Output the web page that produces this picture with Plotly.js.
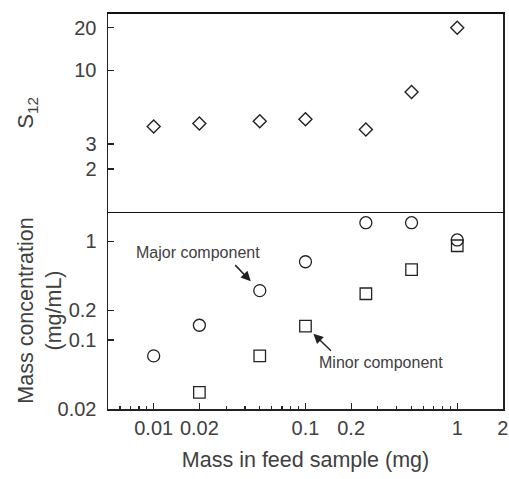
<!DOCTYPE html>
<html>
<head>
<meta charset="utf-8">
<script src="https://cdn.plot.ly/plotly-3.0.1.min.js"></script>
<style>
  html, body { margin: 0; padding: 0; background: #fff; }
  #chart { width: 509px; height: 479px; }
</style>
</head>
<body>
<div id="chart"></div>
<script>
// Mass loaded in the feed sample (mg)
const mass = [0.01, 0.02, 0.05, 0.1, 0.25, 0.5, 1];
// Separation factor S12 at each loading
const s12 = [4.0, 4.2, 4.35, 4.5, 3.8, 7.0, 20];
// Recovered mass concentration of the major component (mg/mL)
const majorConc = [0.069, 0.141, 0.316, 0.62, 1.54, 1.54, 1.03];
// Minor component (not detected at the lowest loading)
const massMinor = [0.02, 0.05, 0.1, 0.25, 0.5, 1];
const minorConc = [0.0295, 0.069, 0.138, 0.294, 0.515, 0.90];

const xTicks = [0.01, 0.02, 0.1, 0.2, 1, 2];
const xTickText = ['0.01', '0.02', '0.1', '0.2', '1', '2'];
const xMinor = [0.006, 0.007, 0.008, 0.009, 0.03, 0.04, 0.05, 0.06, 0.07, 0.08, 0.09,
                0.3, 0.4, 0.5, 0.6, 0.7, 0.8, 0.9];
const sTicks = [2, 3, 10, 20];
const cTicks = [0.02, 0.1, 0.2, 1];
const cTickText = ['0.02', '0.1', '0.2', '1'];

const ink = '#222';
const textInk = '#404040';
const font = 'Liberation Sans, Arial, sans-serif';

const traces = [
  {
    x: mass, y: s12, xaxis: 'x2', yaxis: 'y2', mode: 'markers', type: 'scatter',
    marker: { symbol: 'diamond-open', size: 10, color: ink, line: { width: 1.4, color: ink } },
    showlegend: false
  },
  {
    x: mass, y: majorConc, xaxis: 'x', yaxis: 'y', mode: 'markers', type: 'scatter',
    marker: { symbol: 'circle-open', size: 12, color: ink, line: { width: 1.3, color: ink } },
    showlegend: false
  },
  {
    x: massMinor, y: minorConc, xaxis: 'x', yaxis: 'y', mode: 'markers', type: 'scatter',
    marker: { symbol: 'square-open', size: 11.5, color: ink, line: { width: 1.3, color: ink } },
    showlegend: false
  }
];

const xRange = [Math.log10(0.005), Math.log10(2) + 0.0005];

const layout = {
  width: 509, height: 479,
  margin: { l: 108, r: 6, t: 14, b: 70 },
  paper_bgcolor: '#fff', plot_bgcolor: '#fff',
  font: { family: font, color: textInk, size: 20 },
  showlegend: false,
  xaxis: {
    type: 'log', range: xRange, anchor: 'y', domain: [0, 1],
    showline: true, linecolor: ink, linewidth: 1.5, mirror: false,
    showgrid: false, zeroline: false,
    ticks: 'inside', ticklen: 6, tickwidth: 1.3, tickcolor: ink,
    tickvals: xTicks, ticktext: xTickText,
    tickfont: { size: 20, color: textInk, family: font },
    minor: { tickvals: xMinor, ticks: 'inside', ticklen: 3, tickwidth: 1.2, tickcolor: ink, showgrid: false },
    title: { text: 'Mass in feed sample (mg)', font: { size: 21.5, color: textInk, family: font }, standoff: 14 },
    automargin: false
  },
  xaxis2: {
    type: 'log', range: xRange, anchor: 'y2', matches: 'x', domain: [0, 1],
    showline: true, linecolor: '#111', linewidth: 1.8, mirror: true,
    showgrid: false, zeroline: false, ticks: '', showticklabels: false
  },
  yaxis: {
    type: 'log', domain: [0, 0.5], anchor: 'x',
    range: [Math.log10(0.02), Math.log10(2)],
    showline: true, linecolor: ink, linewidth: 1.5, mirror: true,
    showgrid: false, zeroline: false,
    ticks: 'inside', ticklen: 6, tickwidth: 1.3, tickcolor: ink,
    tickvals: cTicks, ticktext: cTickText,
    tickfont: { size: 20, color: textInk, family: font },
    ticklabelstandoff: 6,
    automargin: false
  },
  yaxis2: {
    type: 'log', domain: [0.5, 1], anchor: 'x2',
    range: [0, Math.log10(25)],
    showline: true, linecolor: ink, linewidth: 1.5, mirror: true,
    showgrid: false, zeroline: false,
    ticks: 'inside', ticklen: 6, tickwidth: 1.3, tickcolor: ink,
    tickvals: sTicks, ticktext: sTicks.map(String),
    tickfont: { size: 20, color: textInk, family: font },
    ticklabelstandoff: 6,
    title: { text: 'S<sub>12</sub>', font: { size: 22, color: textInk, family: font }, standoff: 34 },
    automargin: false
  },
  annotations: [
    {
      // two-line title of the lower panel's y axis
      xref: 'paper', yref: 'paper', x: -0.171, y: 0.25,
      xanchor: 'center', yanchor: 'middle', textangle: -90,
      text: 'Mass concentration<br>(mg/mL)', showarrow: false,
      font: { size: 21.5, color: textInk, family: font }
    },
    {
      xref: 'x', yref: 'y', x: Math.log10(0.0195), y: Math.log10(0.768),
      text: 'Major component', showarrow: false,
      font: { size: 16, color: textInk, family: font }
    },
    {
      xref: 'x', yref: 'y', x: Math.log10(0.3155), y: Math.log10(0.059),
      text: 'Minor component', showarrow: false,
      font: { size: 16, color: textInk, family: font }
    },
    {
      // arrow toward the major-component point at 0.05 mg
      xref: 'x', yref: 'y', x: Math.log10(mass[2]), y: Math.log10(majorConc[2]),
      text: '', showarrow: true, ax: -26, ay: -27, standoff: 13,
      arrowhead: 2, arrowsize: 1.3, arrowwidth: 1.5, arrowcolor: ink
    },
    {
      // arrow toward the minor-component point at 0.1 mg
      xref: 'x', yref: 'y', x: Math.log10(massMinor[2]), y: Math.log10(minorConc[2]),
      text: '', showarrow: true, ax: 27, ay: 26, standoff: 11,
      arrowhead: 2, arrowsize: 1.3, arrowwidth: 1.5, arrowcolor: ink
    }
  ]
};

Plotly.newPlot('chart', traces, layout, { displayModeBar: false, staticPlot: true });
</script>
</body>
</html>
